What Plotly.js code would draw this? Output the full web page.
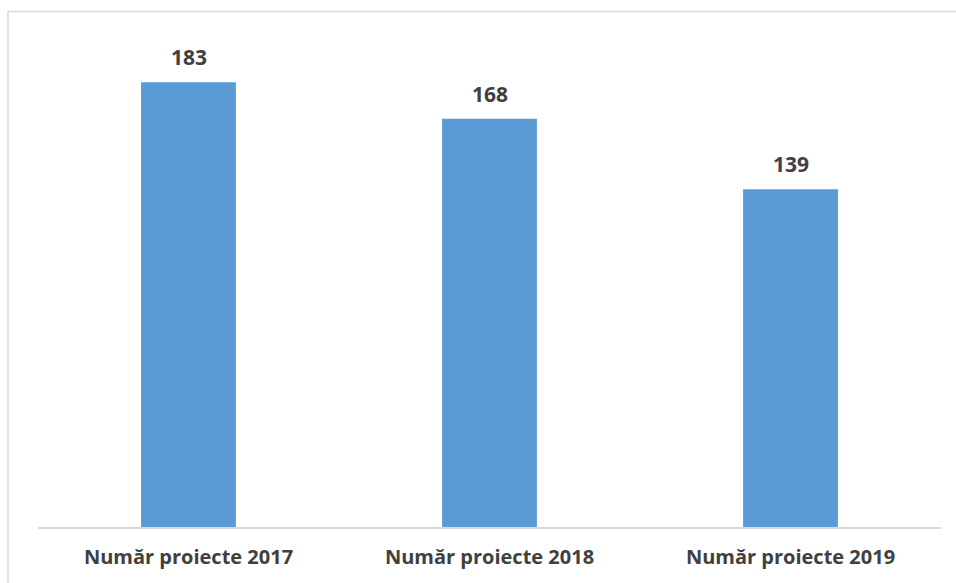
<!DOCTYPE html>
<html>
<head>
<meta charset="utf-8">
<script src="https://cdn.plot.ly/plotly-3.0.1.min.js"></script>
<style>html,body{margin:0;padding:0;background:#fff;}#chart{width:956px;height:583px;}</style>
</head>
<body>
<div id="chart"></div>
<script>
const categories = ["Număr proiecte 2017", "Număr proiecte 2018", "Număr proiecte 2019"];
const values = [183, 168, 139];

const W = 956, H = 583;
const mL = 38, mR = 15, mT = 41, mB = 56;
const pw = W - mL - mR, ph = H - mT - mB;
function px(x){ return (x - mL) / pw; }
function py(y){ return (H - mB - y) / ph; }
const FONT = '"Open Sans", Lato, sans-serif';

const trace = {
  type: 'bar',
  x: categories,
  y: values,
  marker: {color: '#5b9bd5'},
  hoverinfo: 'none'
};

const layout = {
  width: W, height: H,
  margin: {l: mL, r: mR, t: mT, b: mB},
  paper_bgcolor: '#ffffff',
  plot_bgcolor: '#ffffff',
  bargap: 0.685,
  showlegend: false,
  font: {family: FONT, color: '#404040'},
  xaxis: {
    showgrid: false,
    showline: true,
    linecolor: '#d9d9d9',
    linewidth: 2,
    ticks: '',
    ticklabelstandoff: 11,
    tickfont: {family: FONT, size: 20, color: '#404040', weight: 'bold'},
    zeroline: false
  },
  yaxis: {
    range: [0, 200],
    visible: false,
    showgrid: false,
    zeroline: false
  },
  annotations: categories.map((c, i) => ({
    x: c, y: values[i], xref: 'x', yref: 'y',
    text: String(values[i]), showarrow: false,
    yanchor: 'middle', yshift: 25,
    font: {family: FONT, size: 21, color: '#404040', weight: 'bold'}
  })),
  shapes: [
    {type: 'line', xref: 'paper', yref: 'paper', x0: px(8), x1: px(8), y0: py(11), y1: py(590), line: {color: '#d9d9d9', width: 1.5}},
    {type: 'line', xref: 'paper', yref: 'paper', x0: px(8), x1: px(960), y0: py(11.5), y1: py(11.5), line: {color: '#d9d9d9', width: 1.5}}
  ]
};

Plotly.newPlot('chart', [trace], layout, {displayModeBar: false, staticPlot: true});
</script>
</body>
</html>
